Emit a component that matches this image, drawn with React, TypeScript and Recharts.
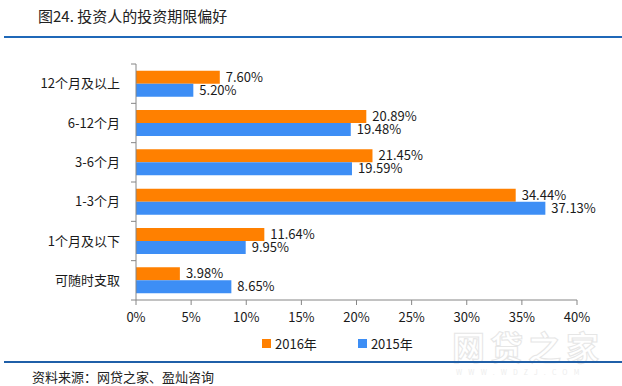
import React from 'react';
import { BarChart, Bar, XAxis, YAxis, Legend, LabelList } from 'recharts';

const categories = ['12个月及以上', '6-12个月', '3-6个月', '1-3个月', '1个月及以下', '可随时支取'];
const values2016 = [7.6, 20.89, 21.45, 34.44, 11.64, 3.98];
const values2015 = [5.2, 19.48, 19.59, 37.13, 9.95, 8.65];
const xTicks = [0, 5, 10, 15, 20, 25, 30, 35, 40];
const seriesNames = ['2016年', '2015年'];
const seriesColors = ['#ff8000', '#3d8ef5'];

const data = categories.map((name, i) => ({
    name,
    y2016: values2016[i],
    y2015: values2015[i],
}));

const W = 622;
const H = 386;
const MARGIN = { top: 64, right: 45, bottom: 33, left: 0 };
const Y_AXIS_W = 136;
const X_AXIS_H = 33;
const LEGEND_H = 20;
const PLOT_H = H - MARGIN.top - MARGIN.bottom - X_AXIS_H - LEGEND_H;
const BAND = PLOT_H / categories.length;
const AXIS_COLOR = '#868686';
const TEXT_COLOR = '#1a1a1a';
const FONT = '"Noto Sans CJK SC", "Microsoft YaHei", sans-serif';

function CategoryTick(props: any) {
    const { y, payload, index } = props;
    const ax = MARGIN.left + Y_AXIS_W;
    return (
        <g>
            <line x1={ax - 5} x2={ax} y1={y - BAND / 2} y2={y - BAND / 2} stroke={AXIS_COLOR} />
            {index === categories.length - 1 && (
                <line x1={ax - 5} x2={ax} y1={y + BAND / 2} y2={y + BAND / 2} stroke={AXIS_COLOR} />
            )}
            <text x={ax - 16} y={y} dy="0.35em" textAnchor="end" fontSize={13} fill={TEXT_COLOR}>
                {payload.value}
            </text>
        </g>
    );
}

// legend keeps the series order (2016 first), recharts sorts its payload otherwise
function LegendContent() {
    return (
        <div style={{ display: 'flex', alignItems: 'center', height: LEGEND_H, fontSize: 13, color: TEXT_COLOR }}>
            {seriesNames.map((name, i) => (
                <div key={name} style={{ display: 'flex', alignItems: 'center', marginRight: i === 0 ? 41 : 0 }}>
                    <span style={{ display: 'inline-block', width: 9, height: 9, background: seriesColors[i], marginRight: 4 }} />
                    {name}
                </div>
            ))}
        </div>
    );
}

export default function App() {
    return (
        <div style={{ position: 'absolute', left: 0, top: 0, width: W, height: H, background: '#fff', fontFamily: FONT, overflow: 'hidden' }}>
            <div style={{ position: 'absolute', left: 38, top: 5, fontSize: 15, color: '#222', whiteSpace: 'nowrap' }}>
                图24. 投资人的投资期限偏好
            </div>
            <div style={{ position: 'absolute', left: 4, top: 36, width: 618, height: 2, background: '#1f68b8' }} />

            {/* faint watermark, bottom right */}
            <div style={{ position: 'absolute', left: 452, top: 330, fontSize: 33, lineHeight: '32px', fontWeight: 700, color: 'transparent', WebkitTextStroke: '1px #e6e6e6', whiteSpace: 'nowrap', letterSpacing: 5 }}>
                网贷之家
            </div>
            <div style={{ position: 'absolute', left: 456, top: 368, fontSize: 7, lineHeight: '8px', color: '#ededed', letterSpacing: 6.2, whiteSpace: 'nowrap' }}>
                WWW.WDZJ.COM
            </div>

            <div style={{ position: 'absolute', left: 0, top: 0 }}>
                <BarChart
                    width={W}
                    height={H}
                    data={data}
                    layout="vertical"
                    margin={MARGIN}
                    barGap={0}
                    barCategoryGap="17%"
                >
                    <XAxis
                        type="number"
                        domain={[0, 40]}
                        ticks={xTicks}
                        interval={0}
                        height={X_AXIS_H}
                        tickFormatter={(v) => `${v}%`}
                        axisLine={{ stroke: AXIS_COLOR }}
                        tickLine={{ stroke: AXIS_COLOR }}
                        tickSize={5}
                        tickMargin={8}
                        tick={{ fontSize: 13, fill: TEXT_COLOR }}
                    />
                    <YAxis
                        type="category"
                        dataKey="name"
                        width={Y_AXIS_W}
                        axisLine={{ stroke: AXIS_COLOR }}
                        tickLine={false}
                        interval={0}
                        tick={<CategoryTick />}
                    />
                    <Legend
                        verticalAlign="bottom"
                        content={<LegendContent />}
                        wrapperStyle={{ left: 262, width: 220, height: LEGEND_H }}
                    />
                    <Bar dataKey="y2016" name={seriesNames[0]} fill={seriesColors[0]} isAnimationActive={false}>
                        <LabelList
                            dataKey="y2016"
                            position="right"
                            offset={6}
                            fontSize={13}
                            fill={TEXT_COLOR}
                            formatter={(v: any) => `${Number(v).toFixed(2)}%`}
                        />
                    </Bar>
                    <Bar dataKey="y2015" name={seriesNames[1]} fill={seriesColors[1]} isAnimationActive={false}>
                        <LabelList
                            dataKey="y2015"
                            position="right"
                            offset={6}
                            fontSize={13}
                            fill={TEXT_COLOR}
                            formatter={(v: any) => `${Number(v).toFixed(2)}%`}
                        />
                    </Bar>
                </BarChart>
            </div>

            <div style={{ position: 'absolute', left: 4, top: 361, width: 618, height: 2, background: '#1f5fa8' }} />
            <div style={{ position: 'absolute', left: 32, top: 367, fontSize: 13, color: '#222', whiteSpace: 'nowrap' }}>
                资料来源：网贷之家、盈灿咨询
            </div>
        </div>
    );
}
